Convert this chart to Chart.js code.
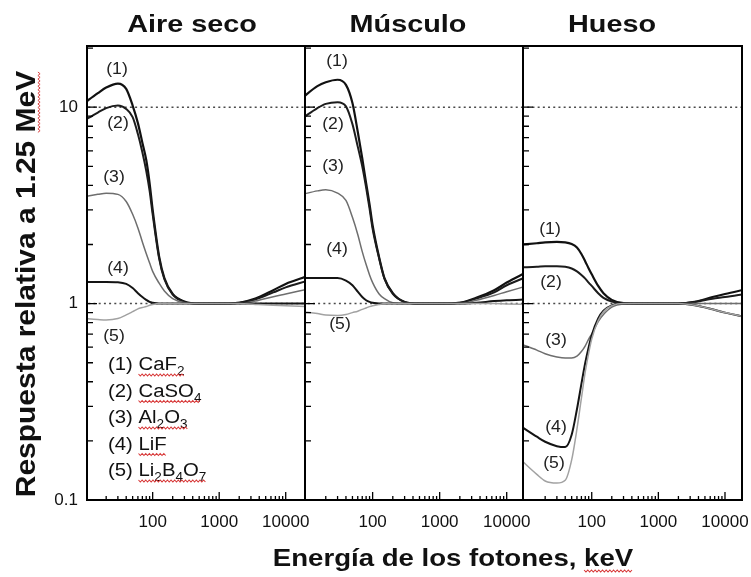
<!DOCTYPE html>
<html>
<head>
<meta charset="utf-8">
<script src="https://cdn.jsdelivr.net/npm/chart.js@4.4.1/dist/chart.umd.min.js"></script>
<style>
html,body{margin:0;padding:0;background:#fff;}
#wrap{position:relative;width:751px;height:577px;overflow:hidden;background:#fff;}
#wrap canvas{position:absolute;top:0;}
</style>
</head>
<body>
<div id="wrap">
<canvas id="c1" width="751" height="577" style="left:0px;width:751px;height:577px"></canvas>
<canvas id="c2" width="270" height="577" style="left:290px;width:270px;height:577px"></canvas>
<canvas id="c3" width="262" height="577" style="left:508px;width:262px;height:577px"></canvas>
</div>
<script>
// ---------------- DATA ----------------
const panelTitles = ['Aire seco', 'Músculo', 'Hueso'];
const curveTags = ['(1)', '(2)', '(3)', '(4)', '(5)'];
const legendItems = ['(1) CaF_2', '(2) CaSO_4', '(3) Al_2O_3', '(4) LiF', '(5) Li_2B_4O_7'];
const xTitle = 'Energía de los fotones, keV';
const yTitle = 'Respuesta relativa a 1.25 MeV';

const xTickValues = [100, 1000, 10000];
const xTickLabels = ['100', '1000', '10000'];
const xMinorTicks = [20, 30, 40, 50, 60, 70, 80, 90, 200, 300, 400, 500, 600, 700, 800, 900, 2000, 3000, 4000, 5000, 6000, 7000, 8000, 9000];
const yTickValues = [0.1, 1, 10];
const yTickLabels = ['0.1', '1', '10'];
const yMinorTicks = [0.2, 0.3, 0.4, 0.5, 0.6, 0.7, 0.8, 0.9, 2, 3, 4, 5, 6, 7, 8, 9, 20];
const refLevels = [10, 1];

// photon energy grid (keV)
const energyKeV = [9, 15, 20, 30, 40, 50, 60, 70, 80, 90, 100, 125, 150, 200, 300, 500, 1000, 2000, 3500, 6500, 10000, 20000];

// Aire seco
const aireCaF2    = [10.4, 11.8, 12.6, 13.2, 12.4, 10.2, 8.3, 6.6, 5.4, 4.1, 3.0, 1.74, 1.35, 1.12, 1.025, 1.0, 1.0, 1.01, 1.06, 1.17, 1.26, 1.37];
const aireCaSO4   = [8.5, 9.4, 9.9, 10.2, 9.8, 8.9, 7.3, 5.9, 4.75, 3.75, 2.85, 1.7, 1.33, 1.11, 1.02, 1.0, 1.0, 1.01, 1.05, 1.14, 1.21, 1.30];
const aireAl2O3   = [3.5, 3.6, 3.65, 3.6, 3.31, 2.85, 2.43, 2.06, 1.8, 1.61, 1.46, 1.27, 1.16, 1.06, 1.01, 1.0, 1.0, 1.0, 1.03, 1.085, 1.12, 1.18];
const aireLiF     = [1.29, 1.29, 1.29, 1.285, 1.26, 1.2, 1.13, 1.08, 1.045, 1.02, 1.01, 1.0, 1.0, 1.0, 1.0, 1.0, 1.0, 1.0, 1.0, 1.0, 1.0, 1.0];
const aireLi2B4O7 = [0.84, 0.83, 0.826, 0.84, 0.876, 0.91, 0.94, 0.955, 0.966, 0.98, 0.99, 1.0, 1.0, 1.0, 1.0, 1.0, 1.0, 1.0, 0.99, 0.98, 0.975, 0.965];

// Músculo
const musculoCaF2    = [11.2, 12.8, 13.4, 13.8, 13.0, 10.5, 7.5, 5.5, 4.1, 3.2, 2.5, 1.72, 1.35, 1.13, 1.02, 1.0, 1.0, 1.01, 1.07, 1.17, 1.28, 1.45];
const musculoCaSO4   = [8.8, 9.9, 10.4, 10.6, 10.1, 8.2, 6.3, 5.0, 3.9, 3.05, 2.4, 1.7, 1.34, 1.12, 1.02, 1.0, 1.0, 1.01, 1.06, 1.14, 1.24, 1.37];
const musculoAl2O3   = [3.6, 3.75, 3.8, 3.65, 3.35, 2.75, 2.25, 1.84, 1.58, 1.4, 1.28, 1.12, 1.06, 1.01, 1.0, 1.0, 1.0, 1.0, 1.04, 1.1, 1.15, 1.23];
const musculoLiF     = [1.35, 1.35, 1.35, 1.35, 1.31, 1.24, 1.15, 1.08, 1.04, 1.02, 1.01, 1.0, 1.0, 1.0, 1.0, 1.0, 1.0, 1.0, 1.01, 1.03, 1.04, 1.05];
const musculoLi2B4O7 = [0.91, 0.89, 0.875, 0.87, 0.88, 0.9, 0.915, 0.935, 0.95, 0.965, 0.975, 0.99, 1.0, 1.0, 1.0, 1.0, 1.0, 1.0, 1.0, 1.0, 0.995, 0.99];

// Hueso
const huesoCaF2    = [2.0, 2.03, 2.05, 2.06, 2.05, 2.01, 1.93, 1.79, 1.64, 1.51, 1.41, 1.23, 1.13, 1.045, 1.005, 1.0, 1.0, 1.0, 1.02, 1.08, 1.12, 1.18];
const huesoCaSO4   = [1.53, 1.54, 1.55, 1.55, 1.54, 1.51, 1.46, 1.4, 1.34, 1.28, 1.23, 1.13, 1.07, 1.025, 1.0, 1.0, 1.0, 1.0, 1.02, 1.06, 1.08, 1.12];
const huesoAl2O3   = [0.62, 0.58, 0.555, 0.535, 0.528, 0.528, 0.54, 0.57, 0.61, 0.66, 0.7, 0.81, 0.88, 0.96, 0.995, 1.0, 1.0, 1.0, 1.0, 1.0, 1.0, 1.0];
const huesoLiF     = [0.235, 0.21, 0.198, 0.188, 0.186, 0.215, 0.29, 0.39, 0.5, 0.6, 0.69, 0.84, 0.92, 0.98, 1.0, 1.0, 1.0, 1.0, 0.98, 0.935, 0.9, 0.855];
const huesoLi2B4O7 = [0.158, 0.135, 0.125, 0.122, 0.126, 0.16, 0.23, 0.33, 0.45, 0.56, 0.66, 0.82, 0.91, 0.975, 1.0, 1.0, 1.0, 1.0, 0.98, 0.935, 0.9, 0.855];

const panelSeries = [
  [aireCaF2, aireCaSO4, aireAl2O3, aireLiF, aireLi2B4O7],
  [musculoCaF2, musculoCaSO4, musculoAl2O3, musculoLiF, musculoLi2B4O7],
  [huesoCaF2, huesoCaSO4, huesoAl2O3, huesoLiF, huesoLi2B4O7]
];

// ---------------- STYLE / LAYOUT ----------------
const FONT = "'Liberation Sans', Arial, Helvetica, sans-serif";
const curveColors = ['#111111', '#1c1c1c', '#6e6e6e', '#141414', '#a2a2a2'];
const curveWidths = [2.2, 2.0, 1.5, 2.0, 1.5];

const panelLayout = [
  {canvas: 'c1', padL: 0, padR: 446, yAxisW: 87, xMin: 10.3, xMax: 19500, titleDx: 105,
   tags: [[30, 24], [31, 78], [27, 132], [31, 223], [27, 291]], global: true},
  {canvas: 'c2', padL: 15, padR: 37, yAxisW: 0, xMin: 9.8, xMax: 17500, titleDx: 103,
   tags: [[32, 16], [28, 79], [28, 121], [32, 204], [35, 279]]},
  {canvas: 'c3', padL: 15, padR: 28, yAxisW: 0, xMin: 9.3, xMax: 18000, titleDx: 89,
   tags: [[27, 184], [28, 237], [33, 295], [33, 382], [31, 418]]}
];

function stretchedText(ctx, str, x, y, font, sx, align) {
  ctx.save();
  ctx.font = font;
  ctx.translate(x, y);
  ctx.scale(sx, 1);
  ctx.textAlign = align;
  ctx.textBaseline = 'alphabetic';
  ctx.fillText(str, 0, 0);
  ctx.restore();
}

function squiggle(ctx, x0, x1, y) {
  ctx.save();
  ctx.strokeStyle = '#d83a3a';
  ctx.lineWidth = 0.9;
  ctx.beginPath();
  let i = 0;
  for (let x = x0; x <= x1; x += 1.6) {
    const yy = y + (i % 2 ? 1.1 : -1.1);
    if (i === 0) ctx.moveTo(x, yy); else ctx.lineTo(x, yy);
    i++;
  }
  ctx.stroke();
  ctx.restore();
}

function drawLegendItem(ctx, item, x, y, size, sx) {
  ctx.save();
  ctx.translate(x, y);
  ctx.scale(sx, 1);
  ctx.fillStyle = '#111';
  ctx.textAlign = 'left';
  ctx.textBaseline = 'alphabetic';
  const sp = item.indexOf(' ');
  const prefix = item.slice(0, sp + 1);
  const formula = item.slice(sp + 1);
  ctx.font = size + 'px ' + FONT;
  ctx.fillText(prefix, 0, 0);
  let cx = ctx.measureText(prefix).width;
  const fStart = cx;
  const parts = formula.split(/(_\d)/).filter(p => p.length);
  for (const p of parts) {
    if (p[0] === '_') {
      ctx.font = Math.round(size * 0.68) + 'px ' + FONT;
      ctx.fillText(p.slice(1), cx, 5);
      cx += ctx.measureText(p.slice(1)).width;
    } else {
      ctx.font = size + 'px ' + FONT;
      ctx.fillText(p, cx, 0);
      cx += ctx.measureText(p).width;
    }
  }
  squiggle(ctx, fStart, cx, 5);
  ctx.restore();
}

const decorPlugin = {
  id: 'decor',
  afterDraw(chart, args, o) {
    const ctx = chart.ctx;
    const a = chart.chartArea;
    const xs = chart.scales.x, ys = chart.scales.y;
    ctx.save();
    // inner tick marks
    ctx.strokeStyle = '#000';
    ctx.lineWidth = 1.3;
    ctx.beginPath();
    for (const v of xMinorTicks) {
      const px = xs.getPixelForValue(v);
      if (px <= a.left + 1 || px >= a.right - 1) continue;
      ctx.moveTo(px, a.bottom); ctx.lineTo(px, a.bottom - 4);
    }
    for (const v of xTickValues) {
      const px = xs.getPixelForValue(v);
      ctx.moveTo(px, a.bottom); ctx.lineTo(px, a.bottom - 8);
    }
    for (const v of yMinorTicks) {
      const py = ys.getPixelForValue(v);
      if (py <= a.top + 1) continue;
      ctx.moveTo(a.left, py); ctx.lineTo(a.left + 6, py);
    }
    for (const v of yTickValues) {
      const py = ys.getPixelForValue(v);
      ctx.moveTo(a.left, py); ctx.lineTo(a.left + 10, py);
    }
    ctx.stroke();
    // frame
    ctx.lineWidth = 2;
    ctx.strokeRect(a.left, a.top, a.right - a.left, a.bottom - a.top);
    // panel title
    ctx.fillStyle = '#111';
    stretchedText(ctx, o.title, a.left + o.titleDx, 32, 'bold 24px ' + FONT, 1.2, 'center');
    // curve tags
    ctx.save();
    ctx.font = '16px ' + FONT;
    ctx.fillStyle = '#222';
    o.tags.forEach((t, i) => {
      ctx.save();
      ctx.translate(a.left + t[0], a.top + t[1]);
      ctx.scale(1.1, 1);
      ctx.textAlign = 'center';
      ctx.textBaseline = 'middle';
      ctx.fillText(curveTags[i], 0, 0);
      ctx.restore();
    });
    ctx.restore();

    if (o.global) {
      // legend block
      legendItems.forEach((it, i) => {
        drawLegendItem(ctx, it, a.left + 21, a.top + 324 + i * 26.5, 18, 1.13);
      });
      // x title
      ctx.save();
      ctx.font = 'bold 24px ' + FONT;
      ctx.translate(453, 566);
      ctx.scale(1.15, 1);
      ctx.fillStyle = '#111';
      ctx.textAlign = 'center';
      ctx.fillText(xTitle, 0, 0);
      const wX = ctx.measureText(xTitle).width;
      const wK = ctx.measureText('keV').width;
      squiggle(ctx, wX / 2 - wK, wX / 2, 5);
      ctx.restore();
      // y title
      ctx.save();
      ctx.font = 'bold 27px ' + FONT;
      ctx.translate(35, 284);
      ctx.rotate(-Math.PI / 2);
      ctx.scale(1.11, 1);
      ctx.fillStyle = '#111';
      ctx.textAlign = 'center';
      ctx.fillText(yTitle, 0, 0);
      const wY = ctx.measureText(yTitle).width;
      const wM = ctx.measureText('MeV').width;
      squiggle(ctx, wY / 2 - wM, wY / 2, 4);
      ctx.restore();
    }
    ctx.restore();
  }
};

function buildPanel(idx) {
  const L = panelLayout[idx];
  const series = panelSeries[idx];
  const datasets = [];
  refLevels.forEach(lv => {
    datasets.push({
      data: [{x: energyKeV[0], y: lv}, {x: energyKeV[energyKeV.length - 1], y: lv}],
      borderColor: '#4a4a4a', borderWidth: 1.5, borderDash: [2, 3.2],
      pointRadius: 0, order: 20, tension: 0
    });
  });
  series.forEach((vals, i) => {
    datasets.push({
      data: energyKeV.map((e, k) => ({x: e, y: vals[k]})),
      borderColor: curveColors[i], borderWidth: curveWidths[i],
      pointRadius: 0, cubicInterpolationMode: 'monotone', order: 10 - i
    });
  });
  const yScale = {
    type: 'logarithmic', min: 0.1, max: 20.5, position: 'left',
    display: L.yAxisW > 0,
    afterBuildTicks: s => { s.ticks = yTickValues.map(v => ({value: v})); },
    afterFit: s => { s.width = L.yAxisW; },
    grid: {display: false, drawTicks: false},
    border: {display: false},
    ticks: {autoSkip: false, padding: 9, color: '#111', font: {family: FONT, size: 17},
            callback: (v, i) => yTickLabels[i]}
  };
  return new Chart(document.getElementById(L.canvas), {
    type: 'line',
    data: {datasets},
    options: {
      responsive: false, animation: false, devicePixelRatio: 1,
      layout: {autoPadding: false, padding: {left: L.padL, right: L.padR, top: 46, bottom: 0}},
      plugins: {
        legend: {display: false}, tooltip: {enabled: false},
        decor: {title: panelTitles[idx], titleDx: L.titleDx, tags: L.tags, global: !!L.global}
      },
      elements: {point: {radius: 0}},
      scales: {
        x: {
          type: 'logarithmic', min: L.xMin, max: L.xMax, position: 'bottom',
          afterBuildTicks: s => { s.ticks = xTickValues.map(v => ({value: v})); },
          afterFit: s => { s.height = 77; },
          grid: {display: false, drawTicks: false},
          border: {display: false},
          ticks: {autoSkip: false, maxRotation: 0, minRotation: 0, padding: 12, color: '#111',
                  font: {family: FONT, size: 17}, callback: (v, i) => xTickLabels[i]}
        },
        y: yScale
      }
    },
    plugins: [decorPlugin]
  });
}

[0, 1, 2].forEach(buildPanel);
</script>
</body>
</html>
